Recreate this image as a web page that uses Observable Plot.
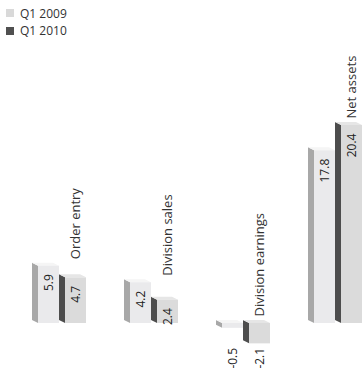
<!DOCTYPE html>
<html>
<head>
<meta charset="utf-8">
<script src="https://cdn.jsdelivr.net/npm/d3@7"></script>
<script src="https://cdn.jsdelivr.net/npm/@observablehq/plot@0.6"></script>
<style>
  html, body { margin: 0; padding: 0; background: #fff; }
  body { width: 362px; height: 378px; overflow: hidden; font-family: "Open Sans", sans-serif; color: #333; }
  .legend { height: 40px; position: relative; font-size: 12px; }
  .legend .row { position: absolute; left: 6px; display: flex; align-items: center; height: 14px; }
  .legend .sw { width: 8px; height: 8px; margin-right: 6px; }
  rect[aria-label="side"] { transform-box: fill-box; transform-origin: 100% 0; transform: skewY(26.565deg); }
  rect[aria-label="topface"] { transform-box: fill-box; transform-origin: 0 100%; transform: skewX(63.435deg); }
</style>
</head>
<body>
<div class="legend" id="legend"></div>
<div id="chart"></div>
<script>
const categories = ["Order entry", "Division sales", "Division earnings", "Net assets"];
const series = ["Q1 2009", "Q1 2010"];
const q1_2009 = [5.9, 4.2, -0.5, 17.8];
const q1_2010 = [4.7, 2.4, -2.1, 20.4];

const frontColor = {"Q1 2009": "#eaeaec", "Q1 2010": "#dbdbdb"};
const sideColor = {"Q1 2009": "#a8a8a8", "Q1 2010": "#4d4d4d"};
const topColor = {"Q1 2009": "#f5f5f5", "Q1 2010": "#e6e6e6"};
const legendColor = {"Q1 2009": "#d9d9d9", "Q1 2010": "#505050"};

const rows = categories.flatMap((c, i) => [
  {category: c, series: series[0], value: q1_2009[i]},
  {category: c, series: series[1], value: q1_2010[i]}
]);
const groups = categories.map((c, i) => ({
  category: c,
  top: Math.max(0, q1_2009[i], q1_2010[i]),
  bottom: Math.min(0, q1_2009[i], q1_2010[i])
}));
const groupBottom = new Map(groups.map(g => [g.category, g.bottom]));

// legend
const legend = document.getElementById("legend");
series.forEach((s, i) => {
  const row = document.createElement("div");
  row.className = "row";
  row.style.top = (6 + i * 17.5) + "px";
  row.innerHTML = `<span class="sw" style="background:${legendColor[s]}"></span><span>${s}</span>`;
  legend.appendChild(row);
});

const W = 362, ML = 31, MR = 0, PI = 0.417;
const step = (W - ML - MR) / (categories.length - PI);
const bw = step * (1 - PI) / series.length;
const depth = 6;

const chart = Plot.plot({
  width: W,
  height: 338,
  marginLeft: ML,
  marginRight: MR,
  marginTop: 0,
  marginBottom: 0,
  fx: {domain: categories, paddingInner: PI, paddingOuter: 0, axis: null},
  x: {domain: series, padding: 0, axis: null},
  y: {domain: [-5.67, 29.16], axis: null},
  style: {fontFamily: "'Open Sans', sans-serif", color: "#333", background: "white", overflow: "visible"},
  marks: [
    // side faces
    Plot.barY(rows, {
      fx: "category", x: "series", y1: d => 0, y2: "value",
      insetRight: bw - depth,
      fill: d => sideColor[d.series],
      ariaLabel: () => "side"
    }),
    // top faces
    Plot.barY(rows, {
      fx: "category", x: "series",
      y1: d => Math.max(0, d.value), y2: d => Math.max(0, d.value),
      insetTop: -3, insetLeft: depth,
      fill: d => topColor[d.series],
      ariaLabel: () => "topface"
    }),
    // front faces
    Plot.barY(rows, {
      fx: "category", x: "series", y1: d => 0, y2: "value",
      insetLeft: depth,
      fill: d => frontColor[d.series]
    }),
    // value labels, positive
    Plot.text(rows.filter(d => d.value >= 0), {
      fx: "category", x: "series", y: "value",
      text: d => d.value.toFixed(1),
      rotate: -90, textAnchor: "end", dx: depth / 2, dy: 8,
      fontSize: 12, fill: "#222"
    }),
    // value labels, negative
    Plot.text(rows.filter(d => d.value < 0), {
      fx: "category", x: "series", y: d => groupBottom.get(d.category),
      text: d => d.value.toFixed(1),
      rotate: -90, textAnchor: "end", dx: depth / 2, dy: 4,
      fontSize: 12, fill: "#222"
    }),
    // category labels
    Plot.text(groups, {
      fx: "category", x: () => series[1], y: "top",
      text: "category",
      rotate: -90, textAnchor: "start", dx: depth / 2, dy: -7,
      fontSize: 13, fill: "#333"
    })
  ]
});
document.getElementById("chart").appendChild(chart);
</script>
</body>
</html>
